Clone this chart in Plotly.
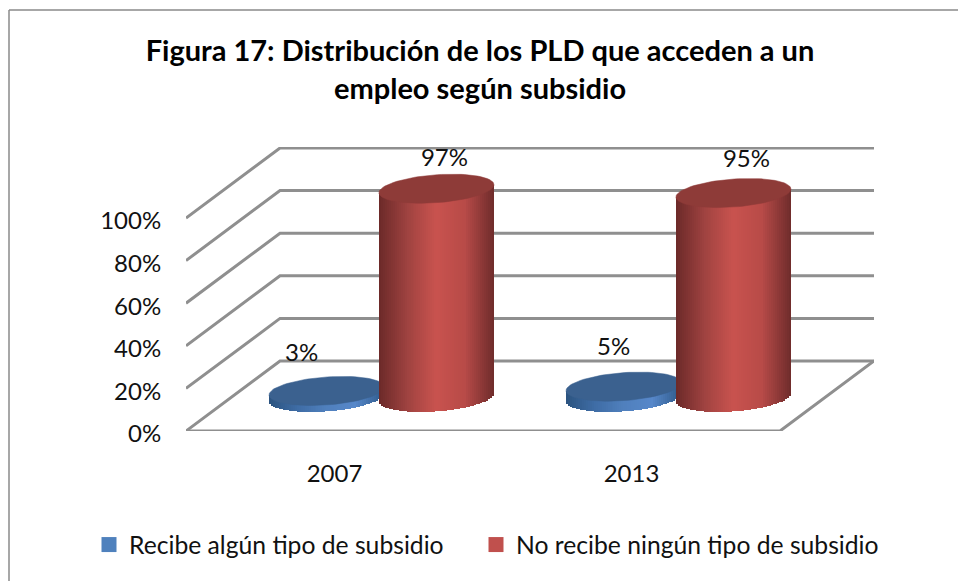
import numpy as np
import plotly.graph_objects as go

# ---- data ----
years = ["2007", "2013"]
recibe = [3, 5]
no_recibe = [97, 95]
series_names = ["Recibe algún tipo de subsidio", "No recibe ningún tipo de subsidio"]
value_ticks = [0, 20, 40, 60, 80, 100]
title_text = "<b>Figura 17: Distribución de los PLD que acceden a un<br>empleo según subsidio</b>"

# ---- layout constants (pixels of the page) ----
W, H = 958, 581
PX_LEFT, PX_FRONT_RIGHT, PX_RIGHT = 186, 780, 874
PX_Y0, PX_Y100, PX_TOP = 431, 218, 147
xu = (PX_FRONT_RIGHT - PX_LEFT) / 2        # px per category
yu = (PX_Y0 - PX_Y100) / 100               # px per percent
X_MAX = (PX_RIGHT - PX_LEFT) / xu
Y_MAX = (PX_Y0 - PX_TOP) / yu
WALL_DX = X_MAX - 2                        # oblique depth of the wall
WALL_DY = (PX_Y0 - 361) / yu
BAR_SHIFT = 0.185
RX = 57.5 / xu
RY = 14 / yu
TILT = 4 / yu
HEIGHT_SCALE = 1.01
FONT = "Lato"
GRID = "#8f8f8f"
TEXT = "#111111"

RED_STOPS = ["#6c2a29", "#a04341", "#c9534f", "#b84b48", "#6f2c2b"]
BLUE_STOPS = ["#2c5480", "#3f6da6", "#5080bd", "#5788ca", "#2f5a8a"]
RED_TOP, BLUE_TOP = "#8e3b38", "#3b618f"
LEG_COLORS = ["#4f81bd", "#c0504d"]


def shade(stops, u):
    pos = np.linspace(-1, 1, len(stops))
    rgb = np.array([[int(s[i:i + 2], 16) for i in (1, 3, 5)] for s in stops], float)
    return "rgb(%d,%d,%d)" % tuple(np.interp(u, pos, rgb[:, k]) for k in range(3))


def cylinder(cat, shift, value, stops, top, z):
    cx = cat + 0.5 + shift + WALL_DX / 2
    cy = WALL_DY * 0.48
    h = value * HEIGHT_SCALE
    n = 58
    edges = np.linspace(-1, 1, n + 1)
    u = (edges[:-1] + edges[1:]) / 2
    low = cy + TILT * u - RY * np.sqrt(1 - u ** 2)
    high = cy + h + TILT * u
    body = go.Bar(
        x=cx + RX * u, y=high - low, base=low, width=2 * RX / n * 1.15,
        marker=dict(color=[shade(stops, a) for a in u], line_width=0),
        hoverinfo="skip", showlegend=False, zorder=z, orientation="v",
    )
    t = np.linspace(0, 2 * np.pi, 90)
    cap = go.Scatter(
        x=cx + RX * np.cos(t),
        y=cy + h + RY * np.sin(t) + TILT * np.cos(t),
        mode="lines", fill="toself", fillcolor=top, line=dict(color=top, width=0.5),
        hoverinfo="skip", showlegend=False, zorder=z + 1, cliponaxis=False,
    )
    return [body, cap]


fig = go.Figure()

# oblique walls and floor
gx, gy = [], []
for v in value_ticks:
    gx += [0, WALL_DX, X_MAX, None]
    gy += [v, v + WALL_DY, v + WALL_DY, None]
gx += [0, 2, X_MAX]
gy += [0, 0, WALL_DY]
fig.add_trace(go.Scatter(x=gx, y=gy, mode="lines", line=dict(color=GRID, width=3),
                         hoverinfo="skip", showlegend=False, cliponaxis=False, zorder=0))

# cylinders, back to front
z = 1
for i in range(len(years)):
    for tr in cylinder(i, -BAR_SHIFT, recibe[i], BLUE_STOPS, BLUE_TOP, z):
        fig.add_trace(tr)
    z += 2
    for tr in cylinder(i, BAR_SHIFT, no_recibe[i], RED_STOPS, RED_TOP, z):
        fig.add_trace(tr)
    z += 2

# data labels
LABEL_DX = [[-25, 8], [-10, 13]]
LABEL_DY = [36, 31, 38, 34]
lx, ly, lt = [], [], []
for i in range(len(years)):
    for j, (vals, s) in enumerate(((recibe, -BAR_SHIFT), (no_recibe, BAR_SHIFT))):
        lx.append(i + 0.5 + s + WALL_DX / 2 + LABEL_DX[i][j] / xu)
        ly.append(WALL_DY * 0.48 + vals[i] + LABEL_DY[2 * i + j] / yu)
        lt.append(f"{vals[i]}%")
fig.add_trace(go.Scatter(x=lx, y=ly, text=lt, mode="text", textposition="middle center",
                         textfont=dict(family=FONT, size=24, color=TEXT), hoverinfo="skip",
                         showlegend=False, cliponaxis=False, zorder=z))

# legend entries, one legend box each so that they can sit where the original has them
for name, c, lg in zip(series_names, LEG_COLORS, ["legend", "legend2"]):
    fig.add_trace(go.Scatter(x=[None], y=[None], name=name, mode="markers", legend=lg,
                             marker=dict(symbol="square", size=15, color=c)))

legend_base = dict(orientation="h", xanchor="left", y=1 - 522 / H, yanchor="top",
                   font=dict(family=FONT, size=24.7, color=TEXT), bgcolor="rgba(0,0,0,0)",
                   itemclick=False, itemdoubleclick=False)

fig.update_layout(
    width=W, height=H, margin=dict(l=0, r=0, t=0, b=0, autoexpand=False),
    paper_bgcolor="white", plot_bgcolor="rgba(0,0,0,0)",
    barmode="overlay", bargap=0,
    font=dict(family=FONT, size=24, color=TEXT),
    title=dict(text=title_text, x=480 / W, xanchor="center", y=1 - 61 / H, yanchor="top",
               font=dict(family=FONT, size=29, color="#000000")),
    xaxis=dict(domain=[PX_LEFT / W, PX_RIGHT / W], range=[0, X_MAX], showgrid=False, zeroline=False,
               showline=False, tickmode="array", tickvals=[0.5, 1.5], ticktext=years,
               ticks="outside", ticklen=21, tickcolor="rgba(0,0,0,0)", automargin=False),
    yaxis=dict(domain=[1 - PX_Y0 / H, 1 - PX_TOP / H], range=[0, Y_MAX], showgrid=False, zeroline=False,
               showline=False, tickmode="array", tickvals=value_ticks,
               ticktext=[f"{v}%" for v in value_ticks], ticklabelshift=3,
               ticks="outside", ticklen=19, tickcolor="rgba(0,0,0,0)", automargin=False),
    legend=dict(x=89 / W, **legend_base),
    legend2=dict(x=476 / W, **legend_base),
    shapes=[
        dict(type="line", xref="paper", yref="paper", x0=9 / W, x1=1, y0=1 - 10 / H, y1=1 - 10 / H,
             line=dict(color="#8a8a8a", width=1.5)),
        dict(type="line", xref="paper", yref="paper", x0=9 / W, x1=9 / W, y0=0, y1=1 - 10 / H,
             line=dict(color="#8a8a8a", width=1.5)),
    ],
)

fig.write_html("out.html", config=dict(displayModeBar=False),
               post_script="document.body.style.margin='0';document.documentElement.style.overflow='hidden';")
